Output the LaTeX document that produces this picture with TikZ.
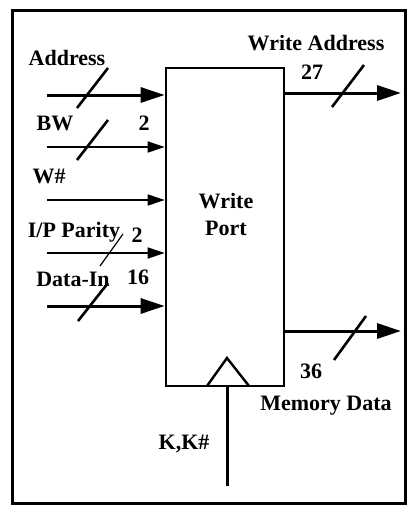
\documentclass[tikz,border=0pt]{standalone}
\usepackage{fontspec}
\setmainfont{Liberation Serif}
\usetikzlibrary{arrows.meta}
\tikzset{
  lbl/.style={font=\bfseries\fontsize{22}{24}\selectfont, inner sep=0pt},
  bigarr/.style={line width=3pt, -{Triangle[length=24pt,width=15pt]}},
  smallarr/.style={line width=1.5pt, -{Triangle[length=17pt,width=11pt]}},
  slashthick/.style={line width=2.6pt},
  slashthin/.style={line width=1.2pt},
  boxst/.style={draw, line width=2.6pt, minimum width=118pt, minimum height=318pt, inner sep=0pt}
}
\begin{document}
\begin{tikzpicture}[x=1pt,y=-1pt]
\useasboundingbox (0,0) rectangle (408,506);
\draw[line width=3pt] (12,10) rectangle (405,503);
% box
\node[boxst] (wp) at (225,227) {};
\node[lbl, align=center] (wpt) at (226,214) {Write\\[3pt]Port};
% inputs
\coordinate (ia) at (47,95);
\coordinate (ib) at (47,147);
\coordinate (iw) at (47,200);
\coordinate (ip) at (47,253);
\coordinate (id) at (47,306);
\draw[bigarr] (ia) -- (ia -| wp.west);
\draw[smallarr] (ib) -- (ib -| wp.west);
\draw[smallarr] (iw) -- (iw -| wp.west);
\draw[smallarr] (ip) -- (ip -| wp.west);
\draw[bigarr] (id) -- (id -| wp.west);
\draw[slashthick] (77,108) -- (108,68);
\draw[slashthick] (77,160) -- (108,120);
\draw[slashthin] (100,266) -- (123,234);
\draw[slashthick] (78,321) -- (108,283);
\node[lbl] (la) at (67,58) {Address};
\node[lbl] (lb) at (55,123) {BW};
\node[lbl] (lb2) at (144,123) {2};
\node[lbl] (lw) at (49,176) {W\#};
\node[lbl] (lp) at (74,232) {I/P Parity};
\node[lbl] (lp2) at (137,235) {2};
\node[lbl] (ld) at (73,279) {Data-In};
\node[lbl] (ld2) at (138,277) {16};
% outputs
\coordinate (oa) at (401,93);
\coordinate (om) at (401,331);
\draw[bigarr] (oa -| wp.east) -- (oa);
\draw[bigarr] (om -| wp.east) -- (om);
\draw[slashthick] (332,107) -- (364,65);
\draw[slashthick] (334,360) -- (366,316);
\node[lbl] (lwa) at (316,43) {Write Address};
\node[lbl] (lwa2) at (312,72) {27};
\node[lbl] (lm2) at (311,371) {36};
\node[lbl] (lm) at (326,406) {Memory Data};
% clock
\draw[line width=2.4pt, line join=miter] (207,386) -- (227,358) -- (249,386);
\coordinate (kc) at (227,486);
\draw[line width=3pt] (kc) -- (kc |- wp.south);
\node[lbl] (lk) at (184,444) {K,K\#};
\end{tikzpicture}
\end{document}
